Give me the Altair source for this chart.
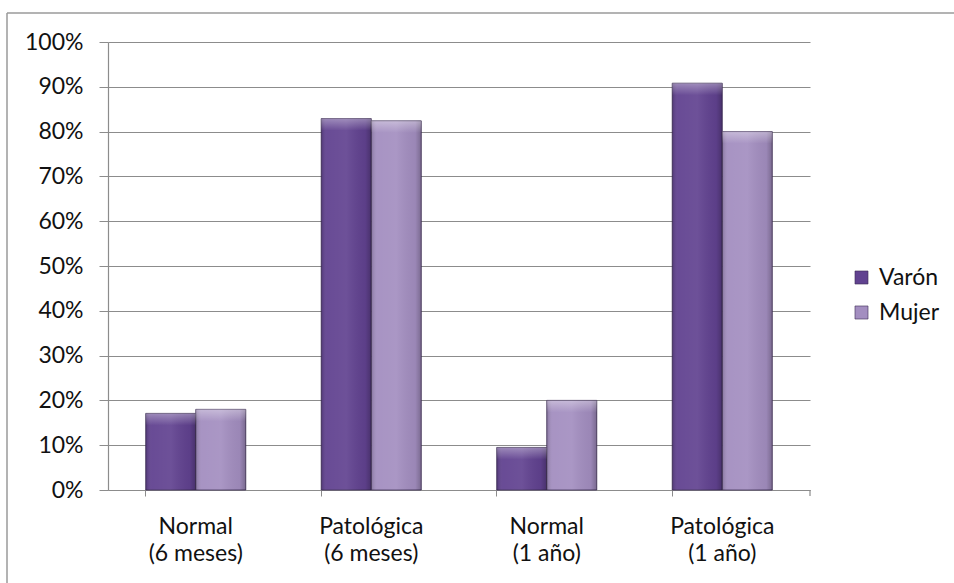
import altair as alt
import pandas as pd

# Grouped bars: share of cases by sex for each outcome group
categories = ["Normal\n(6 meses)", "Patológica\n(6 meses)", "Normal\n(1 año)", "Patológica\n(1 año)"]
series = ["Varón", "Mujer"]
varon = [0.171, 0.829, 0.095, 0.908]
mujer = [0.180, 0.824, 0.200, 0.800]

rows = []
for cat, v, m in zip(categories, varon, mujer):
    rows.append({"grupo": cat, "sexo": "Varón", "valor": v})
    rows.append({"grupo": cat, "sexo": "Mujer", "valor": m})
df = pd.DataFrame(rows)

FONT = "Lato"
TXT = "#111111"
W, H = 702, 448
PAD = {"left": 108, "top": 42, "right": 954 - 108 - W, "bottom": 583 - 42 - H}
GRID = "#8c8c8c"

x_enc = alt.X(
    "grupo:N",
    sort=categories,
    scale=alt.Scale(paddingInner=0.43, paddingOuter=0.215),
    axis=alt.Axis(
        title=None,
        labelAngle=0,
        labelExpr="split(datum.label, '\\n')",
        labelFont=FONT,
        labelFontSize=23,
        labelColor=TXT,
        labelLineHeight=27,
        labelPadding=19,
        bandPosition=0,
        ticks=True,
        tickSize=6,
        tickColor=GRID,
        domainColor=GRID,
        domainWidth=1.2,
        grid=False,
    ),
)
y_enc = alt.Y(
    "valor:Q",
    scale=alt.Scale(domain=[0, 1], nice=False),
    axis=alt.Axis(
        title=None,
        values=[i / 10 for i in range(11)],
        format=".0%",
        labelFont=FONT,
        labelFontSize=23,
        labelColor=TXT,
        labelPadding=16,
        tickSize=9,
        tickColor=GRID,
        domainColor=GRID,
        domainWidth=1.2,
        gridColor=GRID,
        gridWidth=1.2,
    ),
)
xoff = alt.XOffset("sexo:N", sort=series)

base = alt.Chart(df)

bars = base.mark_bar(stroke="#3b2a52", strokeWidth=1, strokeOpacity=0.8).encode(
    x=x_enc,
    xOffset=xoff,
    y=y_enc,
    color=alt.Color(
        "sexo:N",
        sort=series,
        scale=alt.Scale(domain=series, range=["#614290", "#a38ec0"]),
        legend=alt.Legend(
            title=None,
            orient="none",
            legendX=742,
            legendY=224,
            symbolType="square",
            symbolSize=170,
            symbolStrokeColor="#3b2a52",
            symbolStrokeWidth=0.6,
            labelFont=FONT,
            labelFontSize=23,
            labelColor=TXT,
            rowPadding=11,
            labelOffset=6,
        ),
    ),
)

# soft side shading for a bevelled look
shade = base.mark_bar(
    fill=alt.Gradient(
        gradient="linear",
        x1=0, x2=1, y1=0, y2=0,
        stops=[
            alt.GradientStop(offset=0, color="rgba(0,0,0,0.18)"),
            alt.GradientStop(offset=0.12, color="rgba(255,255,255,0.05)"),
            alt.GradientStop(offset=0.5, color="rgba(255,255,255,0.08)"),
            alt.GradientStop(offset=0.88, color="rgba(0,0,0,0.05)"),
            alt.GradientStop(offset=1, color="rgba(0,0,0,0.25)"),
        ],
    )
).encode(x=alt.X("grupo:N", sort=categories), xOffset=xoff, y="valor:Q")

# lighter bevel strip along the top of each bar
cap = base.mark_bar(
    y2Offset=12,
    fill=alt.Gradient(
        gradient="linear",
        x1=0, x2=0, y1=0, y2=1,
        stops=[
            alt.GradientStop(offset=0, color="rgba(255,255,255,0.35)"),
            alt.GradientStop(offset=1, color="rgba(255,255,255,0.0)"),
        ],
    ),
).encode(x=alt.X("grupo:N", sort=categories), xOffset=xoff, y="valor:Q", y2="valor:Q")

# closing tick at the right end of the category axis
end_tick = alt.Chart(pd.DataFrame({"k": [0]})).mark_rule(color=GRID, strokeWidth=1.2).encode(
    x=alt.value(W), y=alt.value(H), y2=alt.value(H + 6)
)

# frame lines around the chart area
frame_top = alt.Chart(pd.DataFrame({"k": [0]})).mark_rule(color="#9a9a9a", strokeWidth=1.5).encode(
    x=alt.value(-101), x2=alt.value(954 - 108), y=alt.value(-29)
)
frame_left = alt.Chart(pd.DataFrame({"k": [0]})).mark_rule(color="#9a9a9a", strokeWidth=1.5).encode(
    x=alt.value(-101), y=alt.value(-29), y2=alt.value(583 - 42)
)

chart = (
    alt.layer(bars, shade, cap, end_tick, frame_top, frame_left)
    .properties(width=W, height=H, autosize="none", padding=PAD, background="white")
    .configure_view(stroke=None)
)

chart.save("out.html", embed_options={"renderer": "svg", "actions": False})
